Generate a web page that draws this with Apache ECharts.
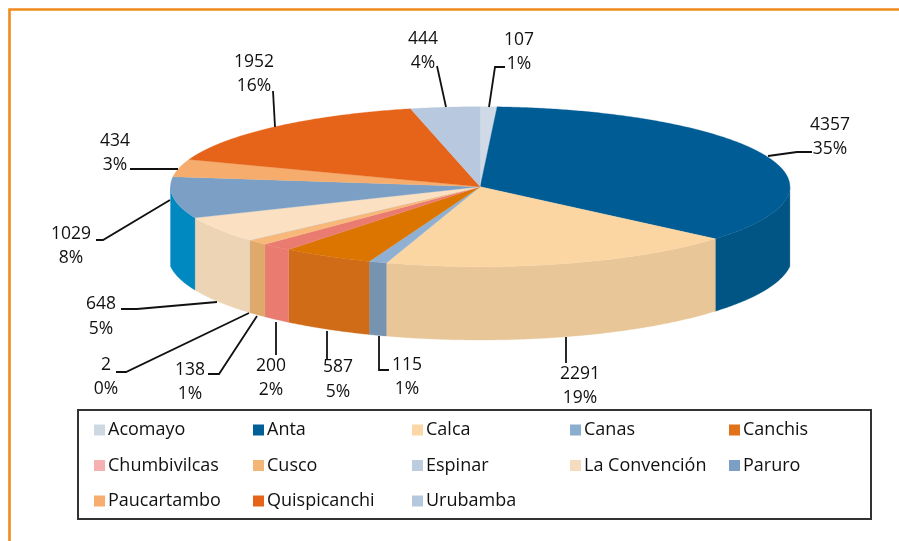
<!DOCTYPE html>
<html><head><meta charset="utf-8">
<style>html,body{margin:0;padding:0;background:#fff}#c{width:899px;height:541px}</style>
<script src="https://cdn.jsdelivr.net/npm/echarts@6/dist/echarts.min.js"></script>
</head><body><div id="c"></div>
<script>
const categories = ['Acomayo','Anta','Calca','Canas','Canchis','Chumbivilcas','Cusco','Espinar','La Convención','Paruro','Paucartambo','Quispicanchi','Urubamba'];
const values = [107,4357,2291,115,587,200,138,2,648,1029,434,1952,444];
const percentLabels = ['1%','35%','19%','1%','5%','2%','1%','0%','5%','8%','3%','16%','4%'];
const topColors = ['#d0dae7','#005c94','#fbd5a2','#8fb0d2','#db7500','#ea7b70','#f7b87a','#bccede','#fbe0c2','#7b9fc5','#f6ac6c','#e5641a','#b8c9df'];
const sideColors = ['#b9c3cf','#005584','#e8c698','#7693b0','#d06b18','#ea7b70','#e0a96c','#a9bac8','#edd4b5','#0088c0','#dd9a60','#cc5816','#a3b3c7'];
const legendColors = ['#cdd8e3','#005f97','#fbd6a6','#8aaecd','#e0721a','#f5b0b2','#f4b677','#bccede','#f5dcbf','#7b9fc5','#f7ad6e','#e5641a','#b3c8dc'];
const legendColumns = [
  ['Acomayo','Chumbivilcas','Paucartambo'],
  ['Anta','Cusco','Quispicanchi'],
  ['Calca','Espinar','Urubamba'],
  ['Canas','La Convención'],
  ['Canchis','Paruro']
];
const legendColumnX = [94,253,412,570,729];

// Label placement [centre x, first line y, second line y] and leader polylines, by category order
const labelPos = [[519,40,64],[830,125,149],[580,374,398],[407,365,389],[338,367,392],[271,366,390],[190,370,394],[106,365,389],[101,304,329],[71,234,258],[115,141,165],[254,62,86],[423,39,63]];
const leaders = [
  [[489,107],[495,67],[505,67]],
  [[768,156],[797,152],[812,152]],
  [[566,337],[566,363]],
  [[379,336],[379,370],[389,370]],
  [[327,331],[327,360]],
  [[276,322],[276,355]],
  [[257,316],[219,374],[208,374]],
  [[249,313],[126,372],[116,372]],
  [[217,302],[137,309],[121,309]],
  [[170,200],[103,240],[96,240]],
  [[130,169],[178,169]],
  [[273,91],[275,127]],
  [[437,66],[446,107]]
];

// Pie geometry in axis units: top ellipse is the unit circle squashed by the grid
const rimRx = 1.0077, rimRy = 1.05, rimDrop = 0.866;
const total = values.reduce((a,b)=>a+b,0);
const FONT = '"Open Sans"';
const rad = d => d*Math.PI/180;

let run = 0;
const spans = values.map(v => { const s = run; run += v; return [s/total*360, run/total*360]; });

function arcAngles(a0,a1){
  const out=[]; const n=Math.max(2,Math.ceil((a1-a0)/0.5));
  for(let i=0;i<=n;i++) out.push(a0+(a1-a0)*i/n);
  return out;
}
function rimY(x){ return -rimDrop - rimRy*Math.sqrt(Math.max(0,1-(x/rimRx)*(x/rimRx))); }

function renderSlice(idx){
  return function(params, api){
    const [a0,a1] = spans[idx];
    const children = [];
    const s0=Math.max(a0,90), s1=Math.min(a1,270);
    if(s1>s0){
      const ang=arcAngles(s0,s1);
      const top=ang.map(a=>api.coord([Math.sin(rad(a)),Math.cos(rad(a))]));
      const bot=ang.map(a=>{const x=Math.sin(rad(a));return api.coord([x,rimY(x)]);}).reverse();
      children.push({type:'polygon',z2:1,shape:{points:top.concat(bot)},style:{fill:sideColors[idx],stroke:sideColors[idx],lineWidth:0.3}});
    }
    const pts=[api.coord([0,0])].concat(arcAngles(a0,a1).map(a=>api.coord([Math.sin(rad(a)),Math.cos(rad(a))])));
    children.push({type:'polygon',z2:2,shape:{points:pts},style:{fill:topColors[idx],stroke:topColors[idx],lineWidth:0.3}});
    children.push({type:'polyline',z2:3,shape:{points:leaders[idx]},style:{fill:null,stroke:'#111',lineWidth:1.8}});
    const lp=labelPos[idx];
    const txt=(t,y)=>({type:'text',z2:4,style:{text:t,x:lp[0],y:y,align:'center',verticalAlign:'middle',fill:'#111',font:'17.5px '+FONT}});
    children.push(txt(String(values[idx]),lp[1]));
    children.push(txt(percentLabels[idx],lp[2]));
    return {type:'group',children};
  };
}

const chart = echarts.init(document.getElementById('c'),null,{renderer:'canvas'});
chart.setOption({
  animation:false,
  backgroundColor:'#fff',
  grid:{left:170.5,top:106.7,width:619.4,height:233.3},
  xAxis:{type:'value',min:-1,max:1,show:false},
  yAxis:{type:'value',min:-(rimDrop+rimRy),max:1,show:false},
  legend:legendColumns.map((col,i)=>({
    orient:'vertical',left:legendColumnX[i],top:421,padding:0,
    itemWidth:11,itemHeight:11,itemGap:17.5,selectedMode:false,icon:'rect',
    textStyle:{fontFamily:'Open Sans',fontSize:18,color:'#111',lineHeight:11,padding:[0,0,0,-2]},
    data:col.map(n=>({name:n,itemStyle:{color:legendColors[categories.indexOf(n)]}}))
  })),
  graphic:[
    {type:'polyline',shape:{points:[[9.5,541],[9.5,9.5],[899,9.5]]},style:{fill:null,stroke:'#f08a1d',lineWidth:2.6}},
    {type:'rect',shape:{x:78,y:410,width:793,height:109},style:{fill:'none',stroke:'#333',lineWidth:2}}
  ],
  series:categories.map((name,i)=>({
    type:'custom',name,coordinateSystem:'cartesian2d',clip:false,silent:true,
    itemStyle:{color:legendColors[i]},
    data:[[0,0]],
    renderItem:renderSlice(i)
  }))
});
</script></body></html>
